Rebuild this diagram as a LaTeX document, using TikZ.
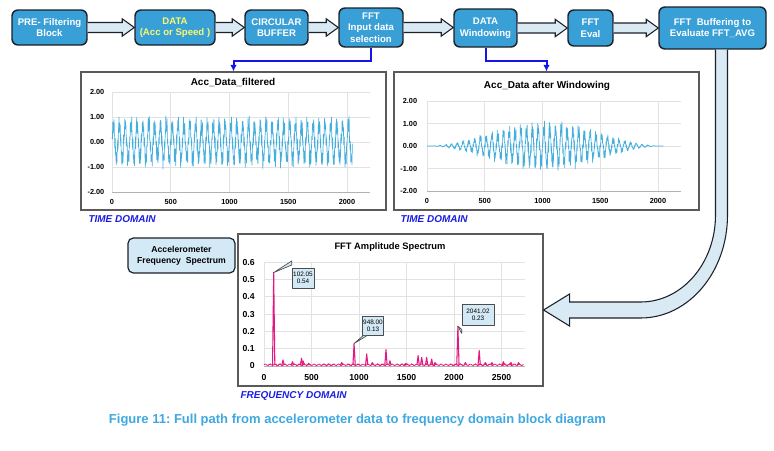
\documentclass[tikz,border=0pt]{standalone}
\usepackage{fontspec}
\setmainfont{Liberation Sans}
\usetikzlibrary{calc,arrows.meta}
\frenchspacing

\definecolor{blockblue}{RGB}{56,160,214}
\definecolor{blockedge}{RGB}{28,32,40}
\definecolor{arrowfill}{RGB}{218,234,245}
\definecolor{boxfill}{RGB}{212,233,246}
\definecolor{waveblue}{RGB}{68,174,221}
\definecolor{specpink}{RGB}{226,26,128}
\definecolor{domainblue}{RGB}{28,28,225}
\definecolor{linkblue}{RGB}{20,20,235}
\definecolor{capblue}{RGB}{62,168,224}
\definecolor{gridgrey}{RGB}{226,226,226}
\definecolor{framegrey}{RGB}{90,90,90}
\definecolor{datayellow}{RGB}{250,250,110}

\newcommand{\blockfont}{\fontsize{7.2}{8.7}\selectfont\bfseries}
\newcommand{\titlefont}{\fontsize{7.5}{9}\selectfont\bfseries}
\newcommand{\tickfont}{\fontsize{5.5}{6.5}\selectfont\bfseries}
\newcommand{\ffttickfont}{\fontsize{6.5}{7.5}\selectfont\bfseries}
\newcommand{\calloutfont}{\fontsize{4.8}{5.4}\selectfont}
\newcommand{\domainfont}{\fontsize{7.5}{9}\selectfont\bfseries\itshape}

\tikzset{every picture/.style={line width=0.75pt}}
\tikzset{
  block/.style={draw=blockedge, line width=1.1pt, fill=blockblue, rounded corners=4.5pt,
    text=white, align=center, inner sep=0pt, font=\blockfont},
  fatarrow/.style={draw=blockedge, line width=0.8pt, fill=arrowfill, line join=miter},
  linkline/.style={draw=linkblue, line width=1.5pt, -{Latex[length=5pt,width=5pt]}},
  chartframe/.style={draw=framegrey, line width=0.8pt, inner sep=0pt},
  gridline/.style={draw=gridgrey, line width=0.5pt},
  axisline/.style={draw=black!30, line width=0.5pt},
  ticklbl/.style={font=\tickfont, inner sep=1pt},
  fftlbl/.style={font=\ffttickfont, inner sep=1pt},
  charttitle/.style={font=\titlefont, inner sep=1pt},
  domainlbl/.style={font=\domainfont, text=domainblue, inner sep=0pt},
  wave/.style={draw=waveblue, line width=0.5pt, line join=round},
  specline/.style={draw=specpink, line width=0.8pt, line join=round},
  callout/.style={draw=black!70, fill=boxfill, line width=0.5pt, font=\calloutfont,
    align=center, inner sep=0pt, line join=round},
  specbox/.style={draw=blockedge, line width=0.9pt, fill=boxfill, rounded corners=4pt,
    align=center, inner sep=0pt, font=\fontsize{6.5}{8.2}\selectfont\bfseries},
  % phases kept below 360 so pgfmath never overflows
  declare function={
    acc(\n)=0.7*sin(mod(\n,50)*7.2)+0.22*sin(mod(\n,5.38)*66.91+40)
      +0.18*sin(mod(\n,2.5)*144+15)+0.1*sin(mod(\n,13.7)*26.28);
    hann(\n)=0.5*(1-cos(\n*0.17578));
    specnoise(\n)=0.007+0.004*sin(7*mod(\n,51.43))+0.003*sin(23*mod(\n,15.65));
  },
}

% hollow block arrow from one box to the next
\newcommand{\linkarrow}[2]{%
  \draw[fatarrow] let \p1=(#1.east), \p2=(#2.west) in
    (\x1,\y1+3.75pt) -- (\x2-9pt,\y1+3.75pt) -- (\x2-9pt,\y1+6.5pt) -- (\x2,\y1)
    -- (\x2-9pt,\y1-6.5pt) -- (\x2-9pt,\y1-3.75pt) -- (\x1,\y1-3.75pt);}

\begin{document}
\begin{tikzpicture}[x=0.75pt,y=0.75pt,yscale=-1,xscale=1]
\useasboundingbox (0,0) rectangle (774,450);

%Processing chain
\node[block, minimum width=56.25pt, minimum height=26.25pt] (pre) at (49.5,27.5) {PRE- Filtering\\Block};
\node[block, text=datayellow, minimum width=60pt, minimum height=26.25pt] (data) at (175,27.5) {DATA\\(Acc or Speed )};
\node[block, minimum width=47.25pt, minimum height=26.25pt] (buf) at (276.5,27.5) {CIRCULAR\\BUFFER};
\node[block, minimum width=48pt, minimum height=29.25pt] (sel) at (371,27.5) {FFT\\Input data\\selection};
\node[block, minimum width=47.25pt, minimum height=28.5pt] (win) at (485.5,28) {DATA\\Windowing};
\node[block, minimum width=33.75pt, minimum height=27pt] (eval) at (590.5,28) {FFT\\Eval};
\node[block, minimum width=80.25pt, minimum height=31.5pt] (avg) at (712.5,28) {FFT\ \ Buffering to\\Evaluate FFT\_AVG};

\linkarrow{pre}{data}
\linkarrow{data}{buf}
\linkarrow{buf}{sel}
\linkarrow{sel}{win}
\linkarrow{win}{eval}
\linkarrow{eval}{avg}

%Chart frames
\node[chartframe, minimum width=228.75pt, minimum height=103.5pt] (filtchart) at (233.5,141) {};
\node[chartframe, minimum width=228.75pt, minimum height=103.5pt] (winchart) at (546.5,141) {};
\node[chartframe, minimum width=228.75pt, minimum height=114pt] (fftchart) at (390.5,310) {};

%Blue taps into the time charts
\draw[linkline] (sel.south) -- ++(0,13) -| (filtchart.north);
\draw[linkline] (win.south) -- ++(0,13) -| (winchart.north);

%Filtered signal
\node[charttitle] (filttitle) at (233,82) {Acc\_Data\_filtered};
\begin{scope}[shift={(112,142)}, xscale=0.1175, yscale=-25]
  \foreach \t in {0,500,...,2000} \draw[gridline] (\t,-2) -- (\t,2);
  \foreach \v in {-1,...,2} \draw[gridline] (0,\v) -- (2200,\v);
  \draw[axisline] (0,-2) -- (2200,-2);
  \draw[wave] plot[domain=0:2046, samples=1024] (\x,{acc(\x)});
  \foreach \v/\l [count=\i] in {2/2.00,1/1.00,0/0.00,-1/-1.00,-2/-2.00}
    \node[ticklbl, anchor=east] (fy\i) at (-50,\v) {\l};
  \foreach \t [count=\i] in {0,500,...,2000}
    \node[ticklbl] (fx\i) at (\t,-2.4) {\t};
\end{scope}
\node[domainlbl, anchor=west] (tdleft) at (88,219) {TIME DOMAIN};

%Windowed signal
\node[charttitle] (wintitle) at (547,86) {Acc\_Data after Windowing};
\begin{scope}[shift={(427,146)}, xscale=0.1155, yscale=-22.5]
  \foreach \t in {0,500,...,2000} \draw[gridline] (\t,-2) -- (\t,2);
  \foreach \v in {-1,...,2} \draw[gridline] (0,\v) -- (2200,\v);
  \draw[axisline] (0,-2) -- (2200,-2);
  \draw[wave] plot[domain=0:2046, samples=1024] (\x,{1.1*hann(\x)*acc(\x)});
  \foreach \v/\l [count=\i] in {2/2.00,1/1.00,0/0.00,-1/-1.00,-2/-2.00}
    \node[ticklbl, anchor=east] (wy\i) at (-70,\v) {\l};
  \foreach \t [count=\i] in {0,500,...,2000}
    \node[ticklbl] (wx\i) at (\t,-2.44) {\t};
\end{scope}
\node[domainlbl, anchor=west] (tdright) at (400,219) {TIME DOMAIN};

%Spectrum
\node[charttitle, font=\fontsize{7}{8.5}\selectfont\bfseries] (ffttitle) at (390,247) {FFT Amplitude Spectrum};
\begin{scope}[shift={(264,366)}, xscale=0.095, yscale=-173]
  \foreach \t in {0,500,...,2500} \draw[gridline] (\t,0) -- (\t,0.6);
  \foreach \v in {0.1,0.2,0.3,0.4,0.5,0.6} \draw[gridline] (0,\v) -- (2750,\v);
  \draw[axisline] (0,0) -- (2750,0);
  \draw[specline, line width=0.6pt] plot[domain=0:2730, samples=360] (\x,{specnoise(\x)});
  \foreach \f/\a in {102/0.54,200/0.035,300/0.025,395/0.045,412/0.03,470/0.015,
      818/0.02,948/0.13,1081/0.07,1140/0.02,1284/0.095,1326/0.03,1490/0.015,
      1622/0.06,1660/0.05,1712/0.05,1765/0.04,1800/0.02,2041/0.23,2120/0.02,
      2265/0.09,2330/0.02,2400/0.02,2520/0.025,2600/0.02,2680/0.02}
    \draw[specline] (\f-12,0.006) -- (\f,\a) -- (\f+12,0.006);
  \coordinate (pk1) at (102,0.54);
  \coordinate (pk2) at (948,0.13);
  \coordinate (pk3) at (2041,0.23);
  \foreach \v [count=\i] in {0,0.1,0.2,0.3,0.4,0.5,0.6}
    \node[fftlbl, anchor=east] (sy\i) at (-80,\v) {\v};
  \foreach \t [count=\i] in {0,500,...,2500}
    \node[fftlbl] (sx\i) at (\t,-0.064) {\t};
\end{scope}
\node[domainlbl, anchor=west] (fdlbl) at (240,396) {FREQUENCY DOMAIN};

%Peak callouts
\node[callout, minimum width=16.5pt, minimum height=15pt] (c1) at (303,278) {102.05\\0.54};
\node[callout, minimum width=15.75pt, minimum height=14.25pt] (c2) at (373,325.5) {948.00\\0.13};
\node[callout, minimum width=24pt, minimum height=15.75pt] (c3) at (478,314.5) {2041.02\\0.23};
\draw[callout] (pk1) -- ([yshift=-2pt]c1.north west) -- ([yshift=-5pt]c1.north west) -- cycle;
\draw[callout] (pk2) -- ([xshift=1pt]c2.south west) -- ([xshift=4pt]c2.south west) -- cycle;
\draw[callout] (pk3) -- ([yshift=3pt]c3.south west) -- ([yshift=6pt]c3.south west) -- cycle;

\node[specbox, minimum width=80.25pt, minimum height=26.25pt] (spec) at (181.5,255.5) {Accelerometer\\Frequency\ \ Spectrum};

%Averaged FFT fed back to the spectrum
\draw[fatarrow] let \p1=($(avg.south)+(9,0)$), \p2=(fftchart.east) in
  (\x1+4.5pt,\y1) -- (\x1+4.5pt,\y2-71.25pt)
  .. controls (\x1+4.5pt,\y2-28.6pt) and (\x2+109pt,\y2+6pt) .. (\x2+72.75pt,\y2+6pt)
  -- (\x2+19.5pt,\y2+6pt) -- (\x2+19.5pt,\y2+12pt) -- (\x2,\y2)
  -- (\x2+19.5pt,\y2-12pt) -- (\x2+19.5pt,\y2-6pt) -- (\x2+72.75pt,\y2-6pt)
  .. controls (\x2+104pt,\y2-6pt) and (\x1-4.5pt,\y2-35.2pt) .. (\x1-4.5pt,\y2-71.25pt)
  -- (\x1-4.5pt,\y1);

% Caption
\node[font=\fontsize{9.75}{12}\selectfont\bfseries, text=capblue] (caption) at (357.5,420)
  {Figure 11: Full path from accelerometer data to frequency domain block diagram};

\end{tikzpicture}
\end{document}
